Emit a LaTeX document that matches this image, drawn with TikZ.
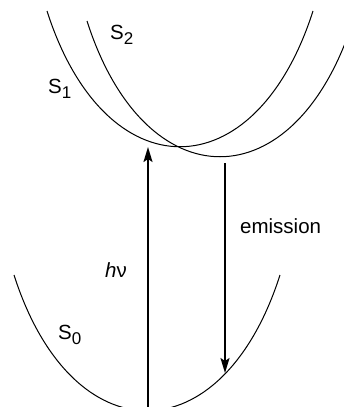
\documentclass[tikz,border=0pt]{standalone}
\usepackage{fontspec}
\setmainfont{Liberation Sans}
\usetikzlibrary{arrows.meta}
\newcommand{\lbsub}[1]{\raisebox{-5pt}{\fontsize{17}{17}\selectfont #1}}
\tikzset{
  curve/.style={line width=1pt},
  transition/.style={line width=1.8pt, -{Stealth[length=15pt,width=9pt,inset=3pt]}},
  lbl/.style={anchor=base west, inner sep=0pt, font=\fontsize{20.5}{24}\selectfont},
}
\begin{document}
\begin{tikzpicture}[x=1pt,y=-1pt]
\useasboundingbox (0,0) rectangle (344,407);
\clip (0,0) rectangle (344,407);
% potential curves (same shape, shifted)
\draw[curve] (47,11) .. controls (105,192) and (255,192) .. (313,11);
\draw[curve] (87,21) .. controls (145,202) and (295,202) .. (353,21);
\draw[curve] (14,275) .. controls (72,456) and (222,456) .. (280,275);
% labels
\node[lbl] (s2) at (110,39) {S\lbsub{2}};
\node[lbl] (s1) at (48,93) {S\lbsub{1}};
\node[lbl] (s0) at (58,339) {S\lbsub{0}};
\node[lbl] (hv) at (105,277) {\itshape h\upshape ν};
\node[lbl] (em) at (240,233) {emission};
% transitions
\coordinate (a0) at (148,410);
\coordinate (a1) at (148,147);
\coordinate (e0) at (225,163);
\coordinate (e1) at (225,373);
\draw[transition] (a0) -- (a1);
\draw[transition] (e0) -- (e1);
\end{tikzpicture}
\end{document}
